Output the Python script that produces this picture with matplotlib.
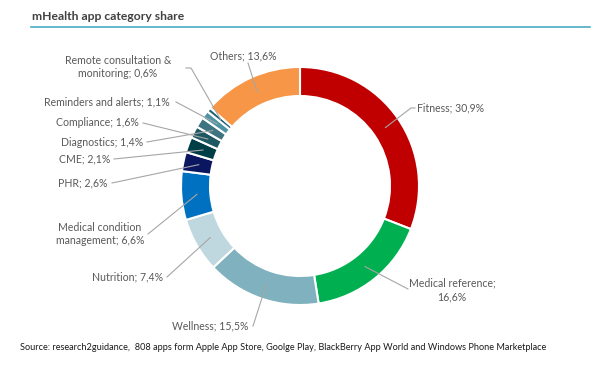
import numpy as np
import matplotlib
matplotlib.use("Agg")
import matplotlib.pyplot as plt

categories = ["Fitness", "Medical reference", "Wellness", "Nutrition",
              "Medical condition\nmanagement", "PHR", "CME", "Compliance",
              "Diagnostics", "Reminders and alerts", "Remote consultation &\nmonitoring", "Others"]
shares = [30.9, 16.6, 15.5, 7.4, 6.6, 2.6, 2.1, 1.6, 1.4, 1.1, 0.6, 13.6]
share_labels = ["30,9%", "16,6%", "15,5%", "7,4%", "6,6%", "2,6%", "2,1%", "1,6%",
                "1,4%", "1,1%", "0,6%", "13,6%"]
colors = ["#C00000", "#00B050", "#7FB1BE", "#BFD8DF", "#0070C0", "#0A1760",
          "#003E47", "#1E5862", "#3E7480", "#4F94A5", "#1F6375", "#F79646"]

title = "mHealth app category share"
source = ("Source: research2guidance,  808 apps form Apple App Store, Goolge Play, "
          "BlackBerry App World and Windows Phone Marketplace")

W, H = 600, 375
fig = plt.figure(figsize=(6, 3.75), dpi=100)
ax = fig.add_axes([0, 0, 1, 1])

def py(y):
    return H - y

cx, cy, R, ring = 300, py(186), 119, 29
wedges, _ = ax.pie(shares, colors=colors, startangle=90, counterclock=False,
                   center=(cx, cy), radius=R, frame=True,
                   wedgeprops=dict(width=ring, edgecolor="white", linewidth=1.5))
ax.set_xlim(0, W)
ax.set_ylim(0, H)
ax.axis("off")

# label layout: text position (px), alignment, elbow points (px)
layout = [
    ((417, 108), "left", "center", [(415, 108), (411, 108)]),
    ((452, 290), "center", "center", [(408, 289)]),
    ((248, 326), "right", "center", [(253, 326)]),
    ((163, 277), "right", "center", [(167, 277)]),
    ((100, 234), "center", "center", [(148, 234)]),
    ((108, 183), "right", "center", [(112, 183)]),
    ((110, 159), "right", "center", [(114, 159)]),
    ((139, 123), "right", "center", [(143, 123)]),
    ((143, 142), "right", "center", [(147, 142)]),
    ((170, 102), "right", "center", [(176, 102)]),
    ((118, 67), "center", "center", [(186, 68), (191, 68)]),
    ((243, 56), "center", "center", [(248, 63)]),
]

font = "Lato"
cum = np.cumsum([0] + shares[:-1])
for i, (name, lab) in enumerate(zip(categories, share_labels)):
    mid = cum[i] + shares[i] / 2
    ang = np.deg2rad(90 - mid * 3.6)
    ax_r = R - ring / 2 - 1
    anchor = (cx + ax_r * np.cos(ang), cy + ax_r * np.sin(ang))
    (tx, ty), ha, va, elbow = layout[i]
    pts = [(x, py(y)) for x, y in elbow] + [anchor]
    xs, ys = zip(*pts)
    ax.plot(xs, ys, color="#A6A6A6", lw=0.8, zorder=3)
    if name == "Medical reference":
        txt = "Medical reference;\n" + lab
    else:
        txt = name + "; " + lab
    ax.text(tx, py(ty), txt, ha=ha, va=va, fontsize=7.6, color="#595959",
            family=font, linespacing=1.25, multialignment="center")

ax.text(32, py(17), title, ha="left", va="center", fontsize=8.7, fontweight="bold",
        color="#404040", family=font)
ax.plot([31, 590], [py(27), py(27)], color="#4BACC6", lw=1.2)
ax.text(20, py(347), source, ha="left", va="center", fontsize=6.6, color="#1A1A1A",
        family=font)

fig.savefig("out.png", dpi=100)
